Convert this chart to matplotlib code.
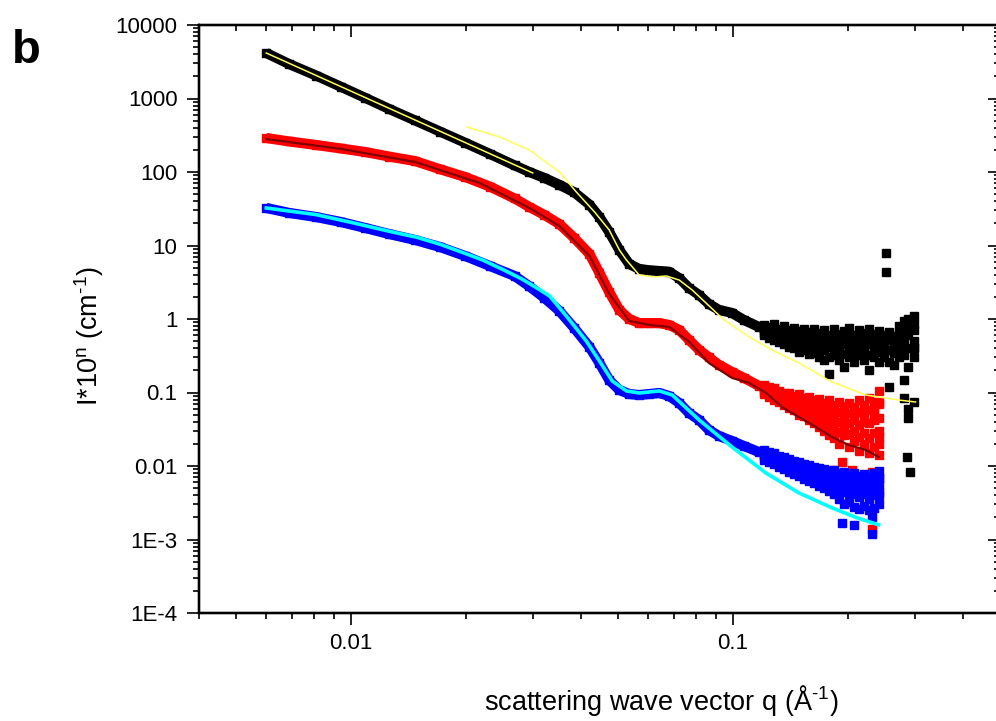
import numpy as np
import matplotlib
matplotlib.use('Agg')
import matplotlib.pyplot as plt
from matplotlib.ticker import LogLocator, FixedLocator, FixedFormatter, NullFormatter

plt.rcParams['font.family'] = ['Liberation Sans', 'DejaVu Sans']
plt.rcParams['mathtext.fontset'] = 'custom'
plt.rcParams['mathtext.rm'] = 'Liberation Sans'
plt.rcParams['mathtext.it'] = 'Liberation Sans:italic'

#=====================================================================
# Data
# smooth part of the three curves (shared q grid)
q_smooth = [0.0060, 0.0069, 0.0081, 0.0094, 0.0109, 0.0126, 0.0147, 0.0171,
            0.0199, 0.0231, 0.0268, 0.0293, 0.0321, 0.0351, 0.0384, 0.0421,
            0.0447, 0.0474, 0.0504, 0.0535, 0.0568, 0.0604, 0.0641, 0.0681,
            0.0723, 0.0767, 0.0815, 0.0865, 0.0919, 0.0994, 0.1068, 0.1169]
black_smooth = [4160, 2930, 2055, 1447, 1019, 718, 504, 355, 250, 176, 123, 100,
                83, 67, 53, 36, 24.4, 15.3, 8.7, 5.6, 4.8, 4.6, 4.5, 4.4,
                3.6, 2.64, 2.12, 1.60, 1.33, 1.21, 0.97, 0.78]
red_smooth = [290, 260, 233, 209, 187, 162, 141, 109, 85.5, 63.3, 43.6, 33.4,
              26.0, 19.6, 12.65, 7.66, 4.23, 2.33, 1.33, 1.00, 0.88, 0.88, 0.88, 0.83,
              0.71, 0.52, 0.38, 0.30, 0.237, 0.190, 0.158, 0.123]
blue_smooth = [32.4, 27.7, 24.4, 20.9, 17.3, 14.3, 11.9, 9.54, 7.20, 5.26, 3.85, 2.79,
               1.93, 1.29, 0.754, 0.416, 0.252, 0.148, 0.108, 0.0954, 0.0925, 0.0954,
               0.0985, 0.0896, 0.0720, 0.0526, 0.0423, 0.0309, 0.0256, 0.0219, 0.0187, 0.0155]

# noisy high-q part
q_noisy = [0.1205, 0.1242, 0.1279, 0.1318, 0.1359, 0.1400, 0.1443, 0.1487,
           0.1532, 0.1579, 0.1627, 0.1677, 0.1728, 0.1781, 0.1835, 0.1891,
           0.1949, 0.2008, 0.2070, 0.2133, 0.2198, 0.2265, 0.2334, 0.2405,
           0.2479, 0.2554, 0.2632, 0.2712, 0.2795, 0.2880, 0.2969]
black_hi = [
    [0.82, 0.78, 0.85, 0.74, 0.80, 0.70, 0.76, 0.68, 0.72, 0.66, 0.74, 0.64,
     0.70, 0.60, 0.72, 0.62, 0.68, 0.75, 0.60, 0.70, 0.64, 0.72, 0.62, 0.68,
     0.60, 0.66, 0.58, 0.80, 0.95, 1.00, 1.10],
    [0.76, 0.72, 0.72, 0.66, 0.66, 0.64, 0.62, 0.58, 0.62, 0.55, 0.62, 0.54,
     0.58, 0.50, 0.58, 0.50, 0.56, 0.58, 0.50, 0.58, 0.52, 0.56, 0.50, 0.56,
     0.50, 0.52, 0.50, 0.62, 0.70, 0.78, 0.85],
    [0.70, 0.66, 0.62, 0.60, 0.56, 0.58, 0.52, 0.50, 0.55, 0.46, 0.52, 0.44,
     0.50, 0.42, 0.48, 0.40, 0.46, 0.44, 0.40, 0.48, 0.42, 0.45, 0.40, 0.46,
     0.42, 0.38, 0.44, 0.48, 0.52, 0.60, 0.50],
    [0.65, 0.60, 0.57, 0.54, 0.50, 0.50, 0.46, 0.43, 0.46, 0.40, 0.43, 0.37,
     0.38, 0.30, 0.40, 0.34, 0.33, 0.37, 0.33, 0.40, 0.35, 0.32, 0.35, 0.36,
     0.36, 0.26, 0.34, 0.38, 0.32, 0.40, 0.40],
    [0.60, 0.56, 0.52, 0.48, 0.45, 0.42, 0.40, 0.36, 0.38, 0.33, 0.35, 0.30,
     0.28, 0.18, 0.32, 0.28, 0.22, 0.30, 0.26, 0.32, 0.28, 0.20, 0.30, 0.26,
     0.30, 0.12, 0.24, 0.30, 0.15, 0.22, 0.30]]
black_extra_q = [0.252, 0.252, 0.2795, 0.2880, 0.2969, 0.2880, 0.2969, 0.2846, 0.2914, 0.2969]
black_extra_I = [7.9, 4.4, 0.085, 0.060, 0.075, 0.045, 0.40, 0.0133, 0.0083, 0.70]

red_hi = [
    [0.128, 0.118, 0.115, 0.105, 0.100, 0.098, 0.090, 0.095, 0.085, 0.088, 0.078, 0.082,
     0.072, 0.078, 0.068, 0.075, 0.066, 0.072, 0.064, 0.078, 0.068, 0.085, 0.075, 0.105],
    [0.118, 0.108, 0.105, 0.096, 0.091, 0.088, 0.081, 0.080, 0.073, 0.072, 0.066, 0.066,
     0.060, 0.060, 0.054, 0.055, 0.054, 0.052, 0.052, 0.054, 0.052, 0.058, 0.056, 0.070],
    [0.110, 0.100, 0.095, 0.088, 0.082, 0.078, 0.072, 0.066, 0.062, 0.058, 0.055, 0.052,
     0.048, 0.045, 0.042, 0.040, 0.044, 0.038, 0.042, 0.036, 0.040, 0.038, 0.042, 0.045],
    [0.102, 0.093, 0.087, 0.081, 0.075, 0.070, 0.065, 0.058, 0.055, 0.050, 0.046, 0.042,
     0.038, 0.035, 0.032, 0.029, 0.034, 0.027, 0.030, 0.025, 0.028, 0.024, 0.028, 0.025],
    [0.095, 0.086, 0.080, 0.074, 0.068, 0.062, 0.058, 0.050, 0.048, 0.042, 0.038, 0.034,
     0.030, 0.026, 0.024, 0.020, 0.026, 0.018, 0.022, 0.016, 0.020, 0.015, 0.018, 0.014]]
red_extra_q = [0.1814, 0.1926, 0.2045, 0.2306, 0.2306, 0.2405, 0.2405, 0.2405]
red_extra_I = [0.0088, 0.0113, 0.0088, 0.0082, 0.0014, 0.075, 0.030, 0.020]

blue_hi = [
    [0.0165, 0.0155, 0.0150, 0.0138, 0.0132, 0.0125, 0.0118, 0.0115, 0.0108, 0.0104,
     0.0098, 0.0095, 0.0090, 0.0086, 0.0088, 0.0080, 0.0082, 0.0076, 0.0080, 0.0072,
     0.0078, 0.0070, 0.0080, 0.0085],
    [0.0153, 0.0143, 0.0137, 0.0126, 0.0120, 0.0113, 0.0106, 0.0101, 0.0095, 0.0092,
     0.0085, 0.0082, 0.0077, 0.0073, 0.0072, 0.0067, 0.0067, 0.0062, 0.0065, 0.0059,
     0.0063, 0.0057, 0.0064, 0.0068],
    [0.0142, 0.0132, 0.0125, 0.0115, 0.0108, 0.0102, 0.0095, 0.0088, 0.0084, 0.0080,
     0.0074, 0.0070, 0.0066, 0.0062, 0.0058, 0.0056, 0.0054, 0.0050, 0.0052, 0.0048,
     0.0050, 0.0046, 0.0050, 0.0055],
    [0.0131, 0.0122, 0.0114, 0.0106, 0.0098, 0.0092, 0.0086, 0.0080, 0.0074, 0.0070,
     0.0065, 0.0061, 0.0057, 0.0053, 0.0049, 0.0047, 0.0044, 0.0043, 0.0042, 0.0038,
     0.0041, 0.0036, 0.0040, 0.0044],
    [0.0122, 0.0112, 0.0105, 0.0098, 0.0090, 0.0084, 0.0078, 0.0072, 0.0066, 0.0062,
     0.0058, 0.0054, 0.0050, 0.0046, 0.0042, 0.0036, 0.0030, 0.0032, 0.0028, 0.0026,
     0.0029, 0.0025, 0.0027, 0.0030]]
blue_extra_q = [0.1926, 0.2070, 0.2306, 0.2306, 0.2405, 0.2405]
blue_extra_I = [0.00168, 0.00158, 0.00205, 0.00118, 0.0068, 0.0040]

# fits
yellow1_q = [0.0060, 0.0299]
yellow1_I = [4160, 97]
yellow2_q = [0.0201, 0.0245, 0.0293, 0.0351, 0.0389, 0.0434, 0.0474, 0.0504, 0.0526,
             0.0568, 0.0622, 0.0669, 0.0723, 0.0782, 0.0850, 0.0947, 0.1101, 0.1279,
             0.1487, 0.1814, 0.2225, 0.2712, 0.3005]
yellow2_I = [410, 299, 199, 100, 53.4, 28.6, 16.3, 8.7, 6.35, 3.97, 3.73, 3.85, 3.39,
             2.48, 1.65, 0.97, 0.57, 0.367, 0.252, 0.139, 0.0925, 0.079, 0.0743]
maroon_q = [0.0060, 0.0094, 0.0147, 0.0217, 0.0293, 0.0351, 0.0421, 0.0474, 0.0535,
            0.0604, 0.0681, 0.0767, 0.0865, 0.0994, 0.1101, 0.1220, 0.1342, 0.1487,
            0.1647, 0.1814, 0.2008, 0.2225, 0.2405]
maroon_I = [281, 206, 137, 70.8, 32.4, 18.4, 7.2, 2.19, 0.94, 0.83, 0.78, 0.49, 0.252,
            0.158, 0.135, 0.0985, 0.0635, 0.0464, 0.0339, 0.0248, 0.0193, 0.0165, 0.0133]
cyan_q = [0.0060, 0.0081, 0.0099, 0.0126, 0.0149, 0.0171, 0.0199, 0.0221, 0.0250, 0.0280,
          0.0310, 0.0331, 0.0366, 0.0413, 0.0447, 0.0483, 0.0526, 0.0568, 0.0641, 0.0693,
          0.0754, 0.0815, 0.0994, 0.1220, 0.1487, 0.1814, 0.2095, 0.2405]
cyan_I = [32.4, 26.3, 20.9, 15.6, 12.9, 10.4, 7.8, 6.35, 4.7, 3.5,
          2.55, 2.05, 1.10, 0.50, 0.268, 0.143, 0.105, 0.0985, 0.105, 0.0925,
          0.0615, 0.0423, 0.0181, 0.0080, 0.0043, 0.0027, 0.0020, 0.00158]

y_ticks = [1e-4, 1e-3, 1e-2, 1e-1, 1, 10, 100, 1000, 10000]
y_labels = ['1E-4', '1E-3', '0.01', '0.1', '1', '10', '100', '1000', '10000']
x_ticks = [0.01, 0.1]
x_labels = ['0.01', '0.1']

#=====================================================================
fig = plt.figure(figsize=(9.96, 7.21), dpi=100)
ax = fig.add_axes([199/996, 108/721, 801/996, 588/721])
ax.set_xscale('log')
ax.set_yscale('log')

ms = 5.2
series = [('k', black_smooth, black_hi, black_extra_q, black_extra_I),
          ('#ff0000', red_smooth, red_hi, red_extra_q, red_extra_I),
          ('#0000ff', blue_smooth, blue_hi, blue_extra_q, blue_extra_I)]
for z, (col, smooth, hi_rows, ex_q, ex_I) in enumerate(series):
    ax.plot(q_smooth, smooth, '-s', color=col, lw=7.3, ms=ms, mec=col,
            solid_joinstyle='round', solid_capstyle='butt', zorder=2 + z)
    for vals in hi_rows:
        ax.plot(q_noisy[:len(vals)], vals, 's', ls='none', color=col, ms=ms, mec=col,
                zorder=2 + z)
    ax.plot(ex_q, ex_I, 's', ls='none', color=col, ms=ms, mec=col, zorder=2 + z)

# fit curves
ax.plot(yellow1_q, yellow1_I, color='#ffff55', lw=1.1, zorder=6)
ax.plot(yellow2_q, yellow2_I, color='#ffff55', lw=1.1, zorder=6)
ax.plot(maroon_q, maroon_I, color='#800000', lw=1.6, zorder=6)
ax.plot(cyan_q, cyan_I, color='#00ffff', lw=2.6, zorder=6)

ax.set_xlim(0.004, 0.5)
ax.set_ylim(1e-4, 1e4)

# ticks: outward left/bottom
ax.xaxis.set_major_locator(FixedLocator(x_ticks))
ax.xaxis.set_major_formatter(FixedFormatter(x_labels))
ax.xaxis.set_minor_locator(LogLocator(base=10, subs=np.arange(2, 10), numticks=30))
ax.xaxis.set_minor_formatter(NullFormatter())
ax.yaxis.set_major_locator(FixedLocator(y_ticks))
ax.yaxis.set_major_formatter(FixedFormatter(y_labels))
ax.yaxis.set_minor_locator(LogLocator(base=10, subs=np.arange(2, 10), numticks=30))
ax.yaxis.set_minor_formatter(NullFormatter())
ax.tick_params(which='both', direction='out', top=False, right=False, width=1.2)
ax.tick_params(which='major', length=8.5, labelsize=16)
ax.tick_params(which='minor', length=4.5)
ax.tick_params(axis='x', pad=6)
ax.tick_params(axis='y', pad=7)

# inward ticks on top and right
axt = ax.twiny()
axt.set_xscale('log')
axt.set_xlim(ax.get_xlim())
axt.xaxis.set_major_locator(FixedLocator(x_ticks))
axt.xaxis.set_minor_locator(LogLocator(base=10, subs=np.arange(2, 10), numticks=30))
axt.tick_params(which='both', direction='in', labeltop=False, width=1.2)
axt.tick_params(which='major', length=8.5)
axt.tick_params(which='minor', length=4.5)

axr = ax.twinx()
axr.set_yscale('log')
axr.set_ylim(ax.get_ylim())
axr.yaxis.set_major_locator(FixedLocator(y_ticks))
axr.yaxis.set_minor_locator(LogLocator(base=10, subs=np.arange(2, 10), numticks=30))
axr.tick_params(which='both', direction='in', labelright=False, width=1.2)
axr.tick_params(which='major', length=8.5)
axr.tick_params(which='minor', length=4.5)

for a in (ax, axt, axr):
    for sp in a.spines.values():
        sp.set_linewidth(1.6)

# labels
fig.text(661/996, 1 - 710/721, 'scattering wave vector q (Å$^{\\text{-1}}$)',
         fontsize=19.5, ha='center', va='baseline')
fig.text(98/996, 1 - 336/721, 'I*10$^{\\text{n}}$ (cm$^{\\text{-1}}$)', fontsize=19.5,
         rotation=90, rotation_mode='anchor', ha='center', va='baseline')
fig.text(12/996, 1 - 63/721, 'b', fontsize=34, fontweight='bold', ha='left', va='baseline')

fig.savefig('out.png', dpi=100)
